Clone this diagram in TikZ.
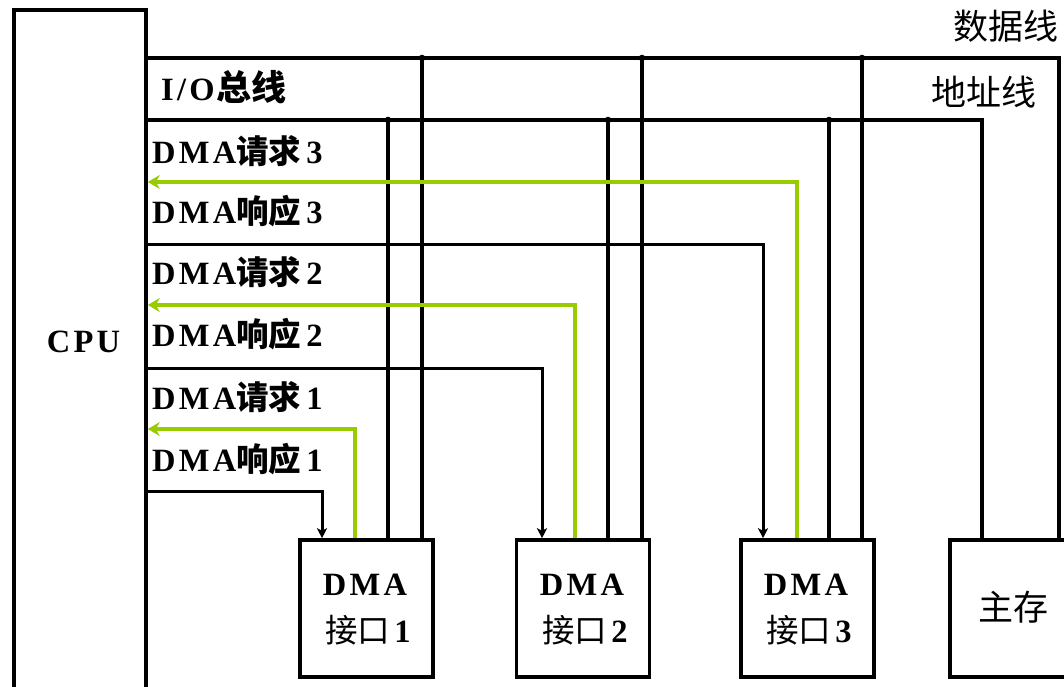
\documentclass[tikz,border=0pt]{standalone}
\usepackage{fontspec}
\setmainfont{Liberation Serif}[LetterSpace=10]
\newfontfamily\cjk{Noto Sans CJK SC}
\usetikzlibrary{arrows.meta}
\definecolor{grn}{RGB}{153,204,0}
\newcommand{\zh}[1]{{\cjk\mdseries #1}}
\newcommand{\zhb}[1]{{\cjk #1}}
\begin{document}
\begin{tikzpicture}[x=1pt,y=-1pt,
  bus/.style={line width=3.2pt},
  box/.style={draw,line width=3.6pt,minimum width=133pt,minimum height=137pt,inner sep=0pt},
  req/.style={draw=grn,line width=4pt,-{Stealth[length=12pt,width=14pt,inset=4pt]}},
  ack/.style={line width=3pt,-{Stealth[length=10pt,width=10pt,inset=2.5pt]}},
  lbl/.style={font=\fontsize{32.5}{38}\selectfont\bfseries,anchor=base west,inner sep=0pt},
  cj/.style={font=\cjk\fontsize{35}{42}\selectfont,inner sep=0pt},
]
\useasboundingbox (0,0) rectangle (1064,686);
\clip (0,0) rectangle (1064,686);

% boxes
\node[draw,line width=3.6pt,minimum width=132pt,minimum height=740pt,inner sep=0pt] (cpu) at (80,380) {};
\node[box] (d1) at (366.5,608.5) {};
\node[box] (d2) at (583,608.5) {};
\node[box] (d3) at (807.5,608.5) {};
\node[box,minimum width=150pt] (mem) at (1025,608.5) {};

% bus lines
\coordinate (dR) at (1059,58);
\coordinate (aR) at (982,120);
\draw[bus] (cpu.east |- dR) -- (dR) -- (dR |- mem.north);
\draw[bus] (cpu.east |- aR) -- (aR) -- (aR |- mem.north);

% data taps
\coordinate (td1) at (422,58);
\coordinate (td2) at (642,58);
\coordinate (td3) at (862,58);
\draw[bus] (td1) -- (td1 |- d1.north);
\draw[bus] (td2) -- (td2 |- d2.north);
\draw[bus] (td3) -- (td3 |- d3.north);
% address taps
\coordinate (ta1) at (388,120);
\coordinate (ta2) at (608,120);
\coordinate (ta3) at (829,120);
\draw[bus] (ta1) -- (ta1 |- d1.north);
\draw[bus] (ta2) -- (ta2 |- d2.north);
\draw[bus] (ta3) -- (ta3 |- d3.north);
\foreach \c in {td1,td2,td3,ta1,ta2,ta3} \fill (\c) circle (3.3pt);

% responses
\coordinate (k1) at (322,491);
\coordinate (k2) at (542,368);
\coordinate (k3) at (763,244);
\draw[ack] (cpu.east |- k1) -- (k1) -- (k1 |- d1.north);
\draw[ack] (cpu.east |- k2) -- (k2) -- (k2 |- d2.north);
\draw[ack] (cpu.east |- k3) -- (k3) -- (k3 |- d3.north);

% requests
\coordinate (r1) at (355,429);
\coordinate (r2) at (575,305);
\coordinate (r3) at (797,182);
\draw[req] (r1 |- d1.north) -- (r1) -- (cpu.east |- r1);
\draw[req] (r2 |- d2.north) -- (r2) -- (cpu.east |- r2);
\draw[req] (r3 |- d3.north) -- (r3) -- (cpu.east |- r3);

% labels
\node[lbl] (lio) at (161,100) {I/O\hspace{2pt}{\cjk\fontsize{35}{42}\selectfont 总线}};
\node[lbl] (lq3) at (152,163.5) {DMA\zhb{请求}\hspace{5pt}3};
\node[lbl] (lr3) at (152,223.5) {DMA\zhb{响应}\hspace{5pt}3};
\node[lbl] (lq2) at (152,284.5) {DMA\zhb{请求}\hspace{5pt}2};
\node[lbl] (lr2) at (152,346.5) {DMA\zhb{响应}\hspace{5pt}2};
\node[lbl] (lq1) at (152,409) {DMA\zhb{请求}\hspace{5pt}1};
\node[lbl] (lr1) at (152,471) {DMA\zhb{响应}\hspace{5pt}1};
\node[lbl,anchor=base] (lcpu) at (83.5,352.5) {CPU};
\node[cj] (ldata) at (1006,26) {数据线};
\node[cj] (laddr) at (983.5,92) {地址线};
\node[cj] (lmem) at (1013,607) {主存};
\node[lbl,anchor=base] (t1a) at (365,595.5) {DMA};
\node[lbl,anchor=base] (t1b) at (368,642.5) {\zh{接口}\hspace{4pt}1};
\node[lbl,anchor=base] (t2a) at (582,595.5) {DMA};
\node[lbl,anchor=base] (t2b) at (585,642.5) {\zh{接口}\hspace{4pt}2};
\node[lbl,anchor=base] (t3a) at (806,595.5) {DMA};
\node[lbl,anchor=base] (t3b) at (809,642.5) {\zh{接口}\hspace{4pt}3};
\end{tikzpicture}
\end{document}
